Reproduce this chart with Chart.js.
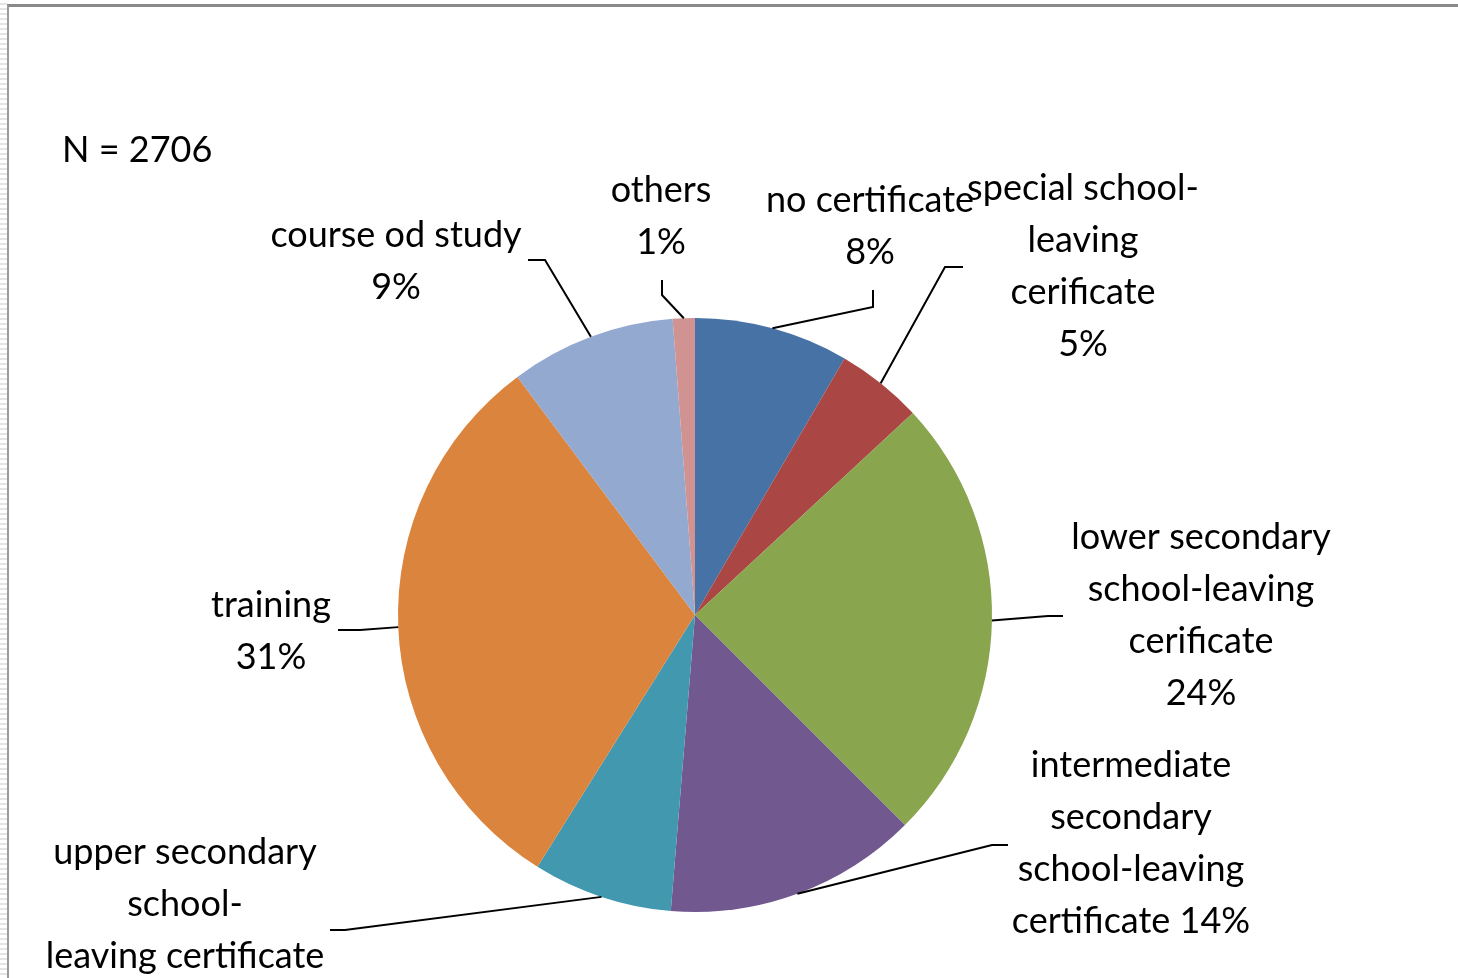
<!DOCTYPE html>
<html lang="en">
  <head>
    <meta charset="UTF-8" />
    <title>School-leaving certificates</title>
    <script src="https://cdn.jsdelivr.net/npm/chart.js"></script>
    <style>
      body { margin: 0; background: #fff; }
      #strip {
        position: absolute; left: 0; top: 0; width: 7px; height: 978px;
        background: repeating-linear-gradient(#fff 0 3px, #e4e4e4 3px 5px);
      }
      #frame {
        position: absolute; left: 7px; top: 4px; width: 1451px; height: 974px;
        border-top: 3px solid #8a8a8a; border-left: 2px solid #9a9a9a;
        box-sizing: border-box;
      }
      canvas { position: absolute; left: 0; top: 0; }
    </style>
  </head>
  <body>
    <div id="strip"></div>
    <div id="frame"></div>
    <canvas id="myChart" width="1458" height="978"></canvas>

    <script>
      const categories = [
        "no certificate",
        "special school-leaving cerificate",
        "lower secondary school-leaving cerificate",
        "intermediate secondary school-leaving certificate",
        "upper secondary school-leaving certificate",
        "training",
        "course od study",
        "others",
      ];
      // share in percent
      const shares = [8.4, 4.7, 24.4, 13.8, 7.6, 30.9, 9.0, 1.2];
      const colors = ["#4672A6", "#AA4644", "#89A54E", "#71588F", "#4198AF", "#DB843D", "#93A9CF", "#D09392"];
      // how each label is broken into lines, {p} = percentage
      const labelLines = [
        ["no certificate", "{p}"],
        ["special school-", "leaving", "cerificate", "{p}"],
        ["lower secondary", "school-leaving", "cerificate", "{p}"],
        ["intermediate", "secondary", "school-leaving", "certificate {p}"],
        ["upper secondary", "school-", "leaving certificate", "{p}"],
        ["training", "{p}"],
        ["course od study", "{p}"],
        ["others", "{p}"],
      ];
      const sampleNote = "N = 2706";

      // label placement relative to pie centre: text (first line centre), leader elbow, leader end
      const labelLayout = [
        { tx: 175, ty: -415, ex: 178, ey: -308, fx: 178, fy: -325 },
        { tx: 388, ty: -427, ex: 250, ey: -348, fx: 268, fy: -348 },
        { tx: 506, ty: -78, ex: 353, ey: 1, fx: 368, fy: 1 },
        { tx: 436, ty: 150, ex: 297, ey: 230, fx: 313, fy: 230 },
        { tx: -510, ty: 237, ex: -350, ey: 315, fx: -365, fy: 315 },
        { tx: -424, ty: -10, ex: -335, ey: 15, fx: -357, fy: 15 },
        { tx: -299, ty: -380, ex: -150, ey: -355, fx: -167, fy: -355 },
        { tx: -34, ty: -425, ex: -33, ey: -320, fx: -33, fy: -335 },
      ];

      const font = "36px Lato";
      const lineHeight = 52;

      const pieLabels = {
        id: "pieLabels",
        afterDatasetsDraw(chart) {
          const ctx = chart.ctx;
          const arcs = chart.getDatasetMeta(0).data;
          const total = shares.reduce((a, b) => a + b, 0);
          ctx.save();
          ctx.font = font;
          ctx.fillStyle = "#000";
          ctx.strokeStyle = "#000";
          ctx.lineWidth = 2;
          ctx.textAlign = "center";
          ctx.textBaseline = "middle";
          arcs.forEach((arc, i) => {
            const p = arc.getProps(["x", "y", "startAngle", "endAngle", "outerRadius"], true);
            const mid = (p.startAngle + p.endAngle) / 2;
            const sx = p.x + Math.cos(mid) * p.outerRadius;
            const sy = p.y + Math.sin(mid) * p.outerRadius;
            const lay = labelLayout[i];
            ctx.beginPath();
            ctx.moveTo(sx, sy);
            ctx.lineTo(p.x + lay.ex, p.y + lay.ey);
            ctx.lineTo(p.x + lay.fx, p.y + lay.fy);
            ctx.stroke();
            const pct = Math.round((shares[i] / total) * 100) + "%";
            labelLines[i].forEach((line, j) => {
              ctx.fillText(line.replace("{p}", pct), p.x + lay.tx, p.y + lay.ty + j * lineHeight);
            });
          });
          ctx.textAlign = "left";
          ctx.fillText(sampleNote, 62, 150);
          ctx.restore();
        },
      };

      const ctx = document.getElementById("myChart").getContext("2d");
      new Chart(ctx, {
        type: "pie",
        data: {
          labels: categories,
          datasets: [
            {
              data: shares,
              backgroundColor: colors,
              borderWidth: 0,
            },
          ],
        },
        options: {
          responsive: false,
          animation: false,
          layout: {
            padding: { top: 318, bottom: 66, left: 398, right: 466 },
          },
          plugins: {
            legend: { display: false },
            tooltip: { enabled: false },
          },
        },
        plugins: [pieLabels],
      });
    </script>
  </body>
</html>
